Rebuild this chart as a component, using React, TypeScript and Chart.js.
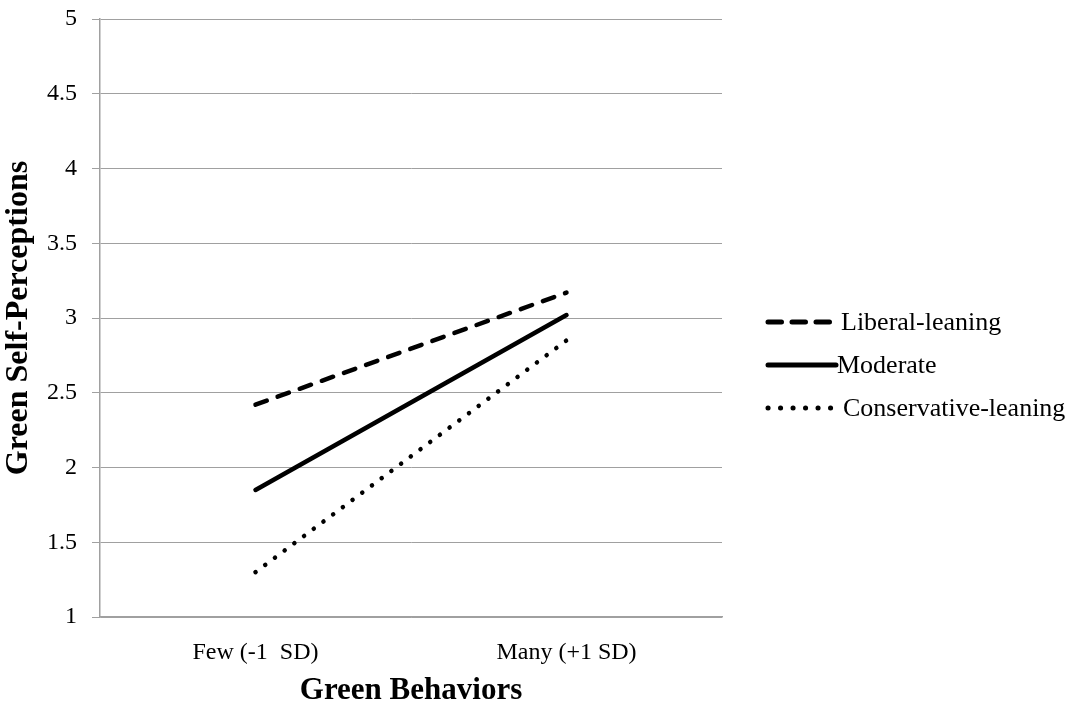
import React, { useEffect, useRef } from "react";
import { Chart, registerables } from "chart.js";

Chart.register(...registerables);

const categories = ["Few (-1  SD)", "Many (+1 SD)"];
const liberal = [2.42, 3.17];
const moderate = [1.85, 3.02];
const conservative = [1.3, 2.85];
const yTicks = [1, 1.5, 2, 2.5, 3, 3.5, 4, 4.5, 5];
const seriesNames = ["Liberal-leaning", "Moderate", "Conservative-leaning"];

const FONT = "'Liberation Serif', 'Times New Roman', serif";
const GRID = "#a0a0a0";

const legendPlugin = {
  id: "sideLegend",
  afterDraw(chart: any) {
    const ctx = chart.ctx;
    const x0 = chart.chartArea.right + 44;
    const yc = (chart.chartArea.top + chart.chartArea.bottom) / 2;
    const gap = 43;
    const textOff = [75, 71, 77];
    const lineEnd = [66, 70, 65.5];
    const dashes = [[13.5, 10.5], [], [0.1, 12.4]];
    ctx.save();
    chart.data.datasets.forEach((ds: any, i: number) => {
      const y = yc + 47 + (i - 1) * gap;
      ctx.beginPath();
      ctx.strokeStyle = ds.borderColor;
      ctx.lineWidth = 5;
      ctx.lineCap = "round";
      ctx.setLineDash(dashes[i]);
      ctx.moveTo(x0 + 2, y);
      ctx.lineTo(x0 + lineEnd[i], y);
      ctx.stroke();
      ctx.setLineDash([]);
      ctx.fillStyle = "#000";
      ctx.font = `26px ${FONT}`;
      ctx.textBaseline = "middle";
      ctx.textAlign = "left";
      ctx.fillText(ds.label, x0 + textOff[i], y + 1);
    });
    ctx.restore();
  },
};

export default function App() {
  const ref = useRef<HTMLCanvasElement>(null);
  useEffect(() => {
    document.body.style.margin = "0";
    const chart = new Chart(ref.current!, {
      type: "line",
      data: {
        labels: categories,
        datasets: [
          {
            label: seriesNames[0],
            data: liberal,
            borderColor: "#000",
            borderWidth: 4.5,
            borderDash: [12, 11.5],
            borderCapStyle: "round",
            pointRadius: 0,
          },
          {
            label: seriesNames[1],
            data: moderate,
            borderColor: "#000",
            borderWidth: 4.5,
            borderCapStyle: "round",
            pointRadius: 0,
          },
          {
            label: seriesNames[2],
            data: conservative,
            borderColor: "#000",
            borderWidth: 4.5,
            borderDash: [0.1, 12],
            borderCapStyle: "round",
            pointRadius: 0,
          },
        ],
      },
      options: {
        animation: false,
        responsive: false,
        devicePixelRatio: 1,
        layout: { padding: { top: 19, right: 359, left: 0, bottom: 0 } },
        plugins: { legend: { display: false }, tooltip: { enabled: false } },
        scales: {
          x: {
            offset: true,
            grid: { display: false },
            border: { display: true, color: GRID, width: 1.5 },
            ticks: { color: "#000", font: { family: FONT, size: 24 }, padding: 13, maxRotation: 0 },
            title: {
              display: true,
              text: "Green Behaviors",
              color: "#000",
              font: { family: FONT, size: 31, weight: "bold" },
              padding: { top: 0, bottom: 0 },
            },
            afterFit(scale: any) {
              scale.height = 93;
              scale.paddingLeft = 0;
              scale.paddingRight = 0;
            },
          },
          y: {
            min: 1,
            max: 5,
            afterBuildTicks(scale: any) {
              scale.ticks = yTicks.map((v) => ({ value: v }));
            },
            grid: { color: GRID, lineWidth: 1, tickLength: 8, drawTicks: true },
            border: { display: true, color: GRID, width: 1.5 },
            ticks: {
              color: "#000",
              font: { family: FONT, size: 24 },
              padding: 15,
              callback: (v: any) => String(v),
            },
            title: {
              display: true,
              text: "Green Self-Perceptions",
              color: "#000",
              font: { family: FONT, size: 32, weight: "bold" },
              padding: { top: 0, bottom: 0 },
            },
            afterFit(scale: any) {
              scale.width = 100;
              scale.paddingTop = 0;
              scale.paddingBottom = 0;
            },
          },
        },
      },
      plugins: [legendPlugin],
    });
    return () => chart.destroy();
  }, []);
  return (
    <div style={{ width: 1081, height: 710, background: "#fff" }}>
      <canvas ref={ref} width={1081} height={710} style={{ display: "block" }} />
    </div>
  );
}
